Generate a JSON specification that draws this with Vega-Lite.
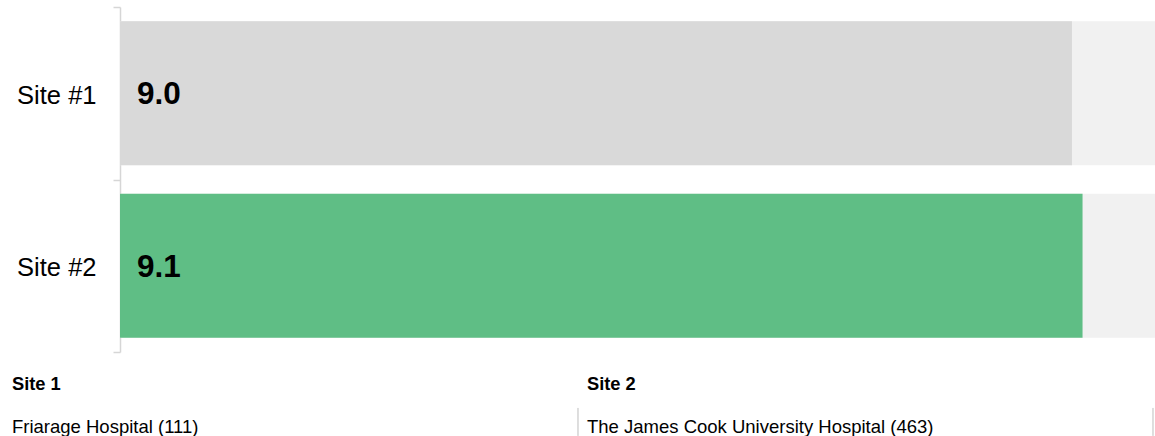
{
  "$schema": "https://vega.github.io/schema/vega-lite/v6.json",
  "padding": {"top": -5, "left": 0, "right": 0, "bottom": 0},
  "background": "white",
  "config": {"view": {"stroke": null}, "font": "Liberation Sans"},
  "width": 1035,
  "height": 345,
  "datasets": {
    "scores": [
      {"site": "Site #1", "value": 9.0, "max": 9.785, "highlight": "no"},
      {"site": "Site #2", "value": 9.1, "max": 9.785, "highlight": "yes"}
    ],
    "headers": [
      {"col": 0, "row": 0, "label": "Site 1"},
      {"col": 1, "row": 0, "label": "Site 2"}
    ],
    "names": [
      {"col": 0, "row": 1, "label": "Friarage Hospital (111)"},
      {"col": 1, "row": 1, "label": "The James Cook University Hospital (463)"}
    ],
    "borders": [
      {"edge": 1},
      {"edge": 2}
    ]
  },
  "resolve": {"scale": {"x": "independent", "y": "independent"}},
  "layer": [
    {
      "data": {"name": "scores"},
      "encoding": {
        "y": {"field": "site", "type": "nominal", "sort": null,
          "scale": {"paddingInner": 0, "paddingOuter": 0},
          "axis": {"title": null, "minExtent": 120, "maxExtent": 120, "tickBand": "extent",
            "domainColor": "#d6d6d6", "domainWidth": 1.5, "tickColor": "#d6d6d6", "tickWidth": 1.5, "tickSize": 7,
            "labelFontSize": 25.5, "labelColor": "#000000", "labelFont": "Liberation Sans", "labelPadding": 17, "labelOffset": 2}}
      },
      "resolve": {"scale": {"x": "shared", "y": "shared"}},
      "layer": [
        {
          "mark": {"type": "bar", "height": {"band": 0.835}, "color": "#f1f1f1"},
          "encoding": {
            "x": {"field": "max", "type": "quantitative", "scale": {"domain": [0, 9.785], "nice": false, "zero": true}, "axis": null}
          }
        },
        {
          "mark": {"type": "bar", "height": {"band": 0.835}},
          "encoding": {
            "x": {"field": "value", "type": "quantitative", "axis": null},
            "color": {"field": "highlight", "type": "nominal", "scale": {"domain": ["no", "yes"], "range": ["#d9d9d9", "#5fbe85"]}, "legend": null}
          }
        },
        {
          "mark": {"type": "text", "align": "left", "baseline": "middle", "dx": 17, "dy": 2, "fontSize": 31.5, "fontWeight": "bold", "color": "#000000", "font": "Liberation Sans"},
          "encoding": {
            "x": {"datum": 0, "type": "quantitative", "axis": null},
            "text": {"field": "value", "type": "quantitative", "format": ".1f"}
          }
        }
      ]
    },
    {
      "encoding": {
        "x": {"type": "quantitative", "scale": {"domain": [0.2035, 2.0035], "nice": false, "zero": false}, "axis": null},
        "y": {"type": "quantitative", "scale": {"domain": [-8.744, -0.721], "reverse": true, "nice": false, "zero": false}, "axis": null}
      },
      "resolve": {"scale": {"x": "shared", "y": "shared"}},
      "layer": [
        {
          "data": {"name": "borders"},
          "mark": {"type": "rule", "color": "#bdbdbd", "strokeWidth": 1, "clip": false},
          "encoding": {
            "x": {"field": "edge", "type": "quantitative"},
            "y": {"datum": 0.58, "type": "quantitative"},
            "y2": {"datum": 1.23}
          }
        },
        {
          "data": {"name": "headers"},
          "mark": {"type": "text", "align": "left", "baseline": "middle", "dx": 9, "dy": 2, "fontSize": 18.3, "fontWeight": "bold", "color": "#000000", "font": "Liberation Sans"},
          "encoding": {
            "x": {"field": "col", "type": "quantitative"},
            "y": {"field": "row", "type": "quantitative"},
            "text": {"field": "label"}
          }
        },
        {
          "data": {"name": "names"},
          "mark": {"type": "text", "align": "left", "baseline": "middle", "dx": 9, "dy": 0.5, "fontSize": 18.5, "color": "#000000", "font": "Liberation Sans"},
          "encoding": {
            "x": {"field": "col", "type": "quantitative"},
            "y": {"field": "row", "type": "quantitative"},
            "text": {"field": "label"}
          }
        }
      ]
    }
  ]
}
